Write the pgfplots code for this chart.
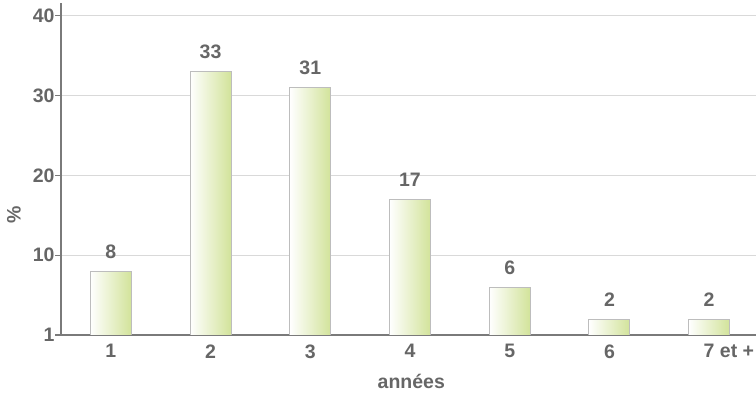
\documentclass[border=0pt]{standalone}
\usepackage{fontspec}
\setmainfont{Liberation Sans}
\usepackage{pgfplots}
\pgfplotsset{compat=1.18}
\definecolor{txt}{HTML}{666666}
\definecolor{axisgray}{HTML}{7A7A7A}
\definecolor{gridgray}{HTML}{D9D9D9}
\definecolor{barborder}{HTML}{BDBDBD}
\definecolor{bargreen}{HTML}{D2E39A}

\newcommand{\lblfont}{\fontsize{19.5}{19.5}\selectfont\bfseries}

\pgfplotsset{
  gradbar/.style={draw=barborder, line width=0.9pt, left color=white, right color=bargreen},
}

\begin{document}
\begin{tikzpicture}
\useasboundingbox (0,0) rectangle (756pt,393pt);
\begin{axis}[
  at={(61pt,58pt)}, anchor=south west,
  scale only axis, width=695pt, height=332pt,
  xmin=-0.5, xmax=6.47, ymin=0, ymax=41.6,
  axis x line=bottom, axis y line=left,
  separate axis lines,
  x axis line style={-, draw=axisgray, line width=1.3pt},
  y axis line style={-, draw=axisgray, line width=1.3pt},
  ybar, bar width=41pt, bar shift=0pt,
  /pgf/number format/assume math mode=true,
  xtick={0,...,6},
  xticklabels={1,2,3,4,5,6,7\rlap{ et +}},
  xtick style={draw=none},
  extra x ticks={-0.5,0.5,...,5.5},
  extra x tick labels={},
  extra x tick style={grid=none, tick align=outside, major tick length=6pt,
    tick style={draw=axisgray, line width=1.2pt}},
  ytick={0,10,20,30,40},
  yticklabels={1,10,20,30,40},
  ytick style={draw=axisgray, line width=1.2pt},
  tick align=outside, major tick length=6pt,
  ymajorgrids,
  grid style={draw=gridgray, line width=1.3pt},
  xticklabel style={font=\lblfont, text=txt, yshift=0pt},
  yticklabel style={font=\lblfont, text=txt, xshift=3pt},
  xlabel={années},
  ylabel={\%},
  xlabel style={font=\lblfont, text=txt, at={(axis description cs:0.504,0)}, anchor=center, yshift=-46pt},
  ylabel style={font=\lblfont, text=txt, at={(axis description cs:-0.0676,0.361)}, anchor=center},
  nodes near coords,
  every node near coord/.append style={font=\lblfont,
    text=txt, inner sep=0pt, anchor=south, yshift=12pt},
]
\addplot[gradbar] coordinates {(0,8)};
\addplot[gradbar] coordinates {(1,33)};
\addplot[gradbar] coordinates {(2,31)};
\addplot[gradbar] coordinates {(3,17)};
\addplot[gradbar] coordinates {(4,6)};
\addplot[gradbar] coordinates {(5,2)};
\addplot[gradbar] coordinates {(6,2)};
\end{axis}
\end{tikzpicture}
\end{document}
